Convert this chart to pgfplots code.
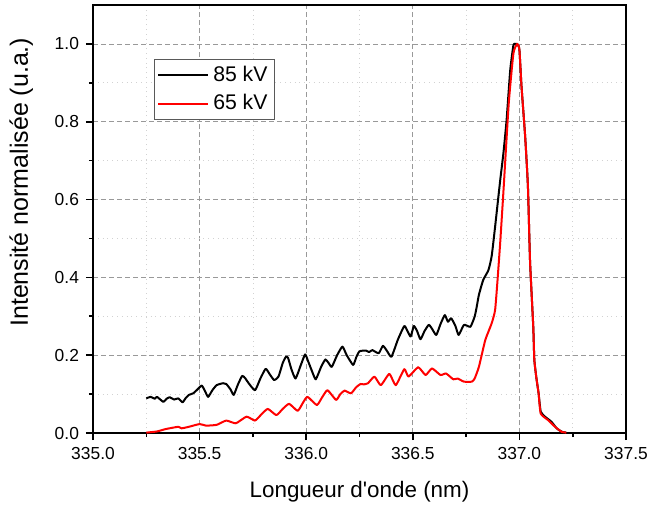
\documentclass[border=0pt]{standalone}
\usepackage{fontspec}
\setmainfont{Liberation Sans}
\usepackage{pgfplots}
\pgfplotsset{compat=1.18}
\begin{document}
\begin{tikzpicture}
\begin{axis}[
  scale only axis,
  width=266.5pt, height=214pt,
  xmin=335, xmax=337.5, ymin=0, ymax=1.1,
  xtick={335,335.5,336,336.5,337,337.5},
  ytick={0,0.2,0.4,0.6,0.8,1.0},
  minor x tick num=1, minor y tick num=1,
  xtick pos=bottom, ytick pos=left,
  tick align=outside,
  major tick length=3.5pt, minor tick length=2pt,
  every tick/.style={black, line width=0.8pt},
  axis line style={black, line width=1pt},
  grid=both,
  major grid style={gray!80, dash pattern=on 2.5pt off 1.5pt, line width=0.4pt},
  minor grid style={gray!35, dotted, line width=0.4pt},
  /pgf/number format/assume math mode=true,
  xticklabel style={/pgf/number format/.cd, fixed, fixed zerofill, precision=1, 1000 sep={}},
  yticklabel style={/pgf/number format/.cd, fixed, fixed zerofill, precision=1},
  tick label style={font=\fontsize{8.7}{10}\selectfont},
  xlabel={Longueur d\textquotesingle onde (nm)},
  ylabel={Intensité normalisée (u.a.)},
  xlabel style={font=\fontsize{11.2}{13}\selectfont, yshift=-4pt},
  ylabel style={font=\fontsize{12.5}{14}\selectfont, at={(ticklabel cs:0.586,4pt)}},
  legend style={at={(0.114,0.875)}, anchor=north west, draw=gray!70!black, line width=0.5pt,
    font=\fontsize{10.6}{12}\selectfont, inner sep=1.5pt, row sep=1pt},
  legend cell align=left,
  legend image code/.code={\draw[#1] (0pt,0pt) -- (25pt,0pt);},
]
\addplot[black, line width=1pt, line join=round, smooth, tension=0.3] coordinates {
(335.25,0.089)(335.27,0.093)(335.29,0.088)(335.30,0.093)(335.33,0.080)(335.345,0.088)(335.36,0.092)
(335.38,0.086)(335.40,0.089)(335.42,0.079)(335.435,0.090)(335.45,0.098)(335.47,0.102)(335.49,0.112)
(335.51,0.122)(335.525,0.108)(335.54,0.093)(335.56,0.110)(335.58,0.123)(335.61,0.128)(335.625,0.126)
(335.645,0.112)(335.66,0.098)(335.68,0.125)(335.70,0.147)(335.715,0.140)(335.73,0.128)(335.76,0.110)
(335.785,0.140)(335.81,0.165)(335.83,0.150)(335.85,0.136)(335.87,0.145)(335.89,0.180)(335.905,0.196)
(335.915,0.193)(335.93,0.165)(335.95,0.140)(335.975,0.175)(335.995,0.202)(336.01,0.183)(336.03,0.155)
(336.045,0.138)(336.07,0.170)(336.09,0.189)(336.105,0.180)(336.12,0.170)(336.145,0.200)(336.17,0.222)
(336.19,0.200)(336.22,0.175)(336.235,0.195)(336.25,0.210)(336.28,0.212)(336.295,0.208)(336.31,0.213)
(336.34,0.205)(336.36,0.224)(336.38,0.210)(336.40,0.196)(336.43,0.240)(336.46,0.275)(336.475,0.262)
(336.49,0.248)(336.505,0.275)(336.52,0.262)(336.536,0.241)(336.555,0.262)(336.575,0.278)(336.59,0.268)
(336.61,0.252)(336.63,0.280)(336.65,0.303)(336.665,0.286)(336.68,0.295)(336.70,0.275)(336.715,0.252)
(336.74,0.278)(336.77,0.273)(336.79,0.299)(336.80,0.325)(336.81,0.355)(336.83,0.393)(336.855,0.419)
(336.87,0.455)(336.886,0.530)(336.91,0.650)(336.925,0.719)(336.94,0.805)(336.957,0.933)(336.972,0.997)
(336.98,1.0)(336.99,1.0)(337.00,0.985)(337.01,0.89)(337.027,0.762)(337.04,0.633)(337.05,0.44)
(337.065,0.273)(337.07,0.188)(337.08,0.14)(337.09,0.102)(337.10,0.055)(337.12,0.042)(337.15,0.029)
(337.175,0.012)(337.20,0.003)(337.22,0.001)
};
\addlegendentry{85 kV}
\addplot[red, line width=1pt, line join=round, smooth, tension=0.3] coordinates {
(335.25,0.001)(335.30,0.004)(335.34,0.010)(335.40,0.016)(335.415,0.012)(335.45,0.016)(335.50,0.023)
(335.53,0.019)(335.58,0.021)(335.625,0.032)(335.67,0.025)(335.72,0.042)(335.76,0.032)(335.79,0.048)
(335.82,0.062)(335.86,0.046)(335.89,0.062)(335.92,0.075)(335.96,0.057)(335.985,0.078)(336.006,0.093)
(336.05,0.072)(336.075,0.092)(336.10,0.110)(336.14,0.085)(336.16,0.100)(336.18,0.109)(336.21,0.102)
(336.235,0.118)(336.255,0.126)(336.27,0.125)(336.29,0.128)(336.32,0.145)(336.35,0.123)(336.39,0.152)
(336.42,0.123)(336.46,0.164)(336.48,0.145)(336.525,0.169)(336.56,0.149)(336.59,0.166)(336.63,0.149)
(336.656,0.153)(336.69,0.138)(336.71,0.140)(336.74,0.132)(336.777,0.132)(336.79,0.140)(336.81,0.170)
(336.84,0.239)(336.87,0.282)(336.886,0.316)(336.897,0.390)(336.91,0.49)(336.925,0.62)(336.95,0.847)
(336.972,0.976)(336.99,1.0)(337.00,0.985)(337.01,0.89)(337.027,0.762)(337.04,0.633)(337.05,0.44)
(337.065,0.273)(337.07,0.188)(337.08,0.14)(337.09,0.102)(337.10,0.050)(337.135,0.033)(337.167,0.016)
(337.198,0.003)(337.22,0.001)
};
\addlegendentry{65 kV}
\end{axis}
\path (current axis.south west) ++(-46.5pt,-36pt) coordinate (bbA);
\path (current axis.north east) ++(10.5pt,2.5pt) coordinate (bbB);
\pgfresetboundingbox
\path[use as bounding box] (bbA) rectangle (bbB);
\end{tikzpicture}
\end{document}
